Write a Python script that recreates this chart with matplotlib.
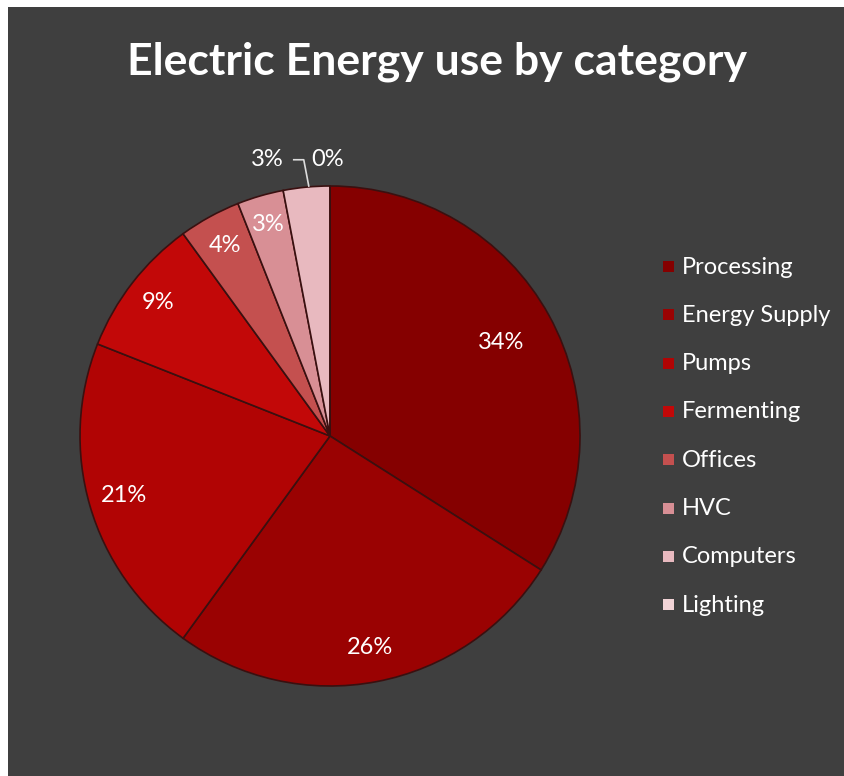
import matplotlib

matplotlib.use("Agg")
import matplotlib.pyplot as plt  # noqa: E402
import numpy as np  # noqa: E402
from matplotlib.patches import Rectangle  # noqa: E402

plt.rcParams["font.family"] = ["Lato", "DejaVu Sans"]

# data
categories = ["Processing", "Energy Supply", "Pumps", "Fermenting",
              "Offices", "HVC", "Computers", "Lighting"]
shares = [34, 26, 21, 9, 4, 3, 3, 0]
colors = ["#850000", "#9a0202", "#b10404", "#c20808",
          "#c4504f", "#d88f95", "#e8b9bf", "#f1d3d6"]

W, H = 844, 776
BG = "#3f3f3f"

fig = plt.figure(figsize=(W / 100, H / 100), dpi=100, facecolor="white")
# dark panel, leaving a thin white strip on the left and top
fig.patches.append(Rectangle((8 / W, 0), 1 - 8 / W, 1 - 7 / H,
                             transform=fig.transFigure, facecolor=BG,
                             edgecolor="none", zorder=-5))

fig.text(437 / W, 1 - 62 / H, "Electric Energy use by category",
         ha="center", va="center", color="white", fontsize=32,
         fontweight="bold")

# pie: centre (330, 436) px, radius 250 px
cx, cy, r = 330, 436, 250
ax = fig.add_axes([(cx - r) / W, (H - cy - r) / H, 2 * r / W, 2 * r / H])
ax.set_facecolor("none")
wedges, _ = ax.pie(shares, colors=colors, startangle=90, counterclock=False,
                   radius=1.0,
                   wedgeprops=dict(edgecolor="#3a1010", linewidth=1.2))
ax.set_xlim(-1, 1)
ax.set_ylim(-1, 1)
ax.set_aspect("equal")
ax.axis("off")

# percentage labels inside the bigger slices
total = float(sum(shares))
start = 90.0
label_dist = [0.78, 0.86, 0.86, 0.87, 0.87, 0.88]
for i, v in enumerate(shares):
    theta = start - 360 * v / total / 2
    start -= 360 * v / total
    if i >= len(label_dist):
        continue
    t = np.deg2rad(theta)
    ax.text(label_dist[i] * np.cos(t), label_dist[i] * np.sin(t),
            f"{v}%", ha="center", va="center", color="white", fontsize=17)

# last two slices get outside labels with a leader line
ax.text(-0.25, 1.105, f"{shares[6]}%", ha="center", va="center",
        color="white", fontsize=17)
ax.text(-0.01, 1.105, f"{shares[7]}%", ha="center", va="center",
        color="white", fontsize=17)
ax.plot([-0.145, -0.105, -0.085], [1.105, 1.105, 1.0], color="#dddddd",
        lw=1.2, clip_on=False)

# legend drawn by hand to keep the Excel spacing
for i, (name, c) in enumerate(zip(categories, colors)):
    y = 267 + 48.3 * i
    fig.patches.append(Rectangle((663 / W, 1 - (y + 5) / H), 11 / W, 11 / H,
                                 transform=fig.transFigure, facecolor=c,
                                 edgecolor="none"))
    fig.text(682 / W, 1 - y / H, name, ha="left", va="center",
             color="white", fontsize=17)

fig.savefig("out.png", dpi=100, facecolor=fig.get_facecolor())
